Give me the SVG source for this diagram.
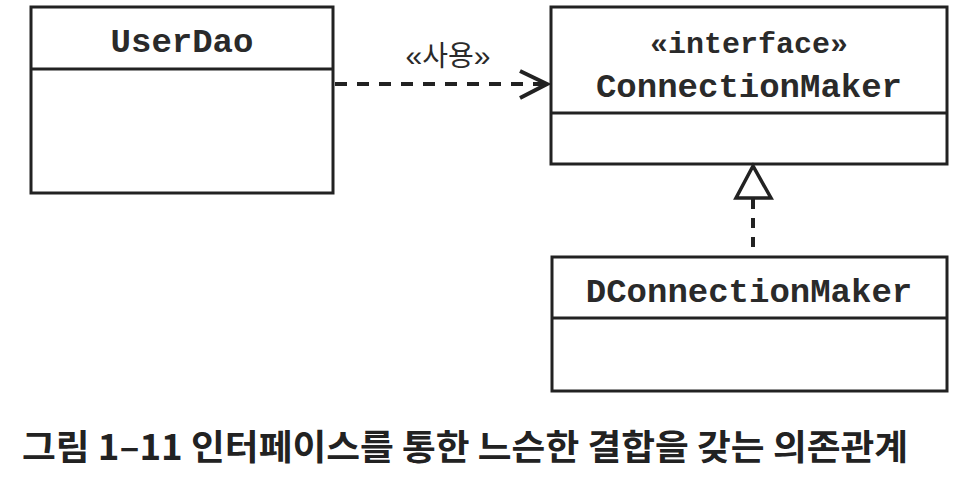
<svg xmlns="http://www.w3.org/2000/svg" width="964" height="491" viewBox="0 0 964 491">
<style>
.box{fill:#fff;stroke:#222;stroke-width:3}
.div{stroke:#222;stroke-width:3}
.cls{font-family:"Liberation Mono","Courier New",monospace;font-weight:bold;font-size:34px;fill:#2a2a2a;text-anchor:middle}
.st{font-family:"Liberation Mono","Courier New",monospace;font-weight:bold;font-size:30px;fill:#2a2a2a;text-anchor:middle}
.lbl{font-family:"Noto Sans CJK KR","Noto Sans",sans-serif;font-size:28px;fill:#2a2a2a;text-anchor:middle}
.gm{font-family:"Liberation Sans",Arial,sans-serif;font-size:30px}
.cap{font-family:"Noto Sans CJK KR","Noto Sans",sans-serif;font-weight:bold;font-size:35px;fill:#222}
.dash{fill:none;stroke:#222;stroke-width:4}
</style>
<rect width="964" height="491" fill="#fff"/>
<g id="UserDao">
<rect class="box" x="31" y="7" width="302" height="186"/>
<line class="div" x1="31" y1="69" x2="333" y2="69"/>
<text class="cls" x="182" y="52">UserDao</text>
</g>
<g id="ConnectionMaker">
<rect class="box" x="551" y="7" width="396" height="157"/>
<line class="div" x1="551" y1="113" x2="947" y2="113"/>
<text class="st" x="749" y="53">«interface»</text>
<text class="cls" x="749" y="97">ConnectionMaker</text>
</g>
<g id="DConnectionMaker">
<rect class="box" x="552" y="257" width="395" height="134"/>
<line class="div" x1="552" y1="318" x2="947" y2="318"/>
<text class="cls" x="749" y="302">DConnectionMaker</text>
</g>
<g id="connectors">
<line class="dash" x1="335" y1="84" x2="545" y2="84" stroke-dasharray="12 10"/>
<polyline class="dash" points="520,71 547,84 520,98" stroke-linejoin="miter"/>
<text class="lbl" x="448" y="66"><tspan class="gm">«</tspan>사용<tspan class="gm">»</tspan></text>
<line class="dash" x1="753" y1="199" x2="753" y2="257" stroke-dasharray="10 9"/>
<polygon points="753,166 736,198 771,198" fill="#fff" stroke="#222" stroke-width="3.5" stroke-linejoin="miter"/>
</g>
<text class="cap" x="22" y="460" textLength="886" lengthAdjust="spacingAndGlyphs">그림 1–11 인터페이스를 통한 느슨한 결합을 갖는 의존관계</text>
</svg>
